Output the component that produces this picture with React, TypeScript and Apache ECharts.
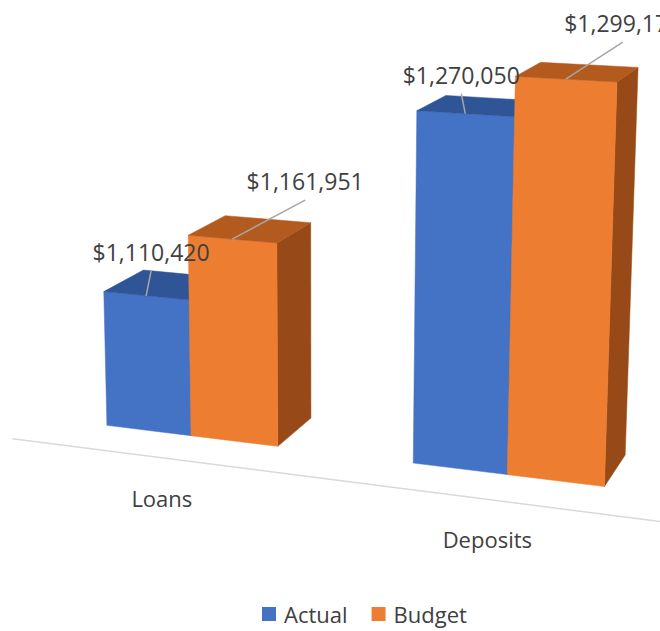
import React, { useEffect, useRef } from 'react';
import * as echarts from 'echarts';

// ---------- data ----------
const categories = ['Loans', 'Deposits'];
const seriesNames = ['Actual', 'Budget'];
const actualValues = [1110420, 1270050];
const budgetValues = [1161951, 1299173];

// hidden value axis (the floor of the 3D plot is at AXIS_MIN)
const AXIS_MIN = 1000000;
const AXIS_MAX = 1400000;
const AXIS_STEP = 100000;

// ---------- style / layout ----------
const FONT = "'Open Sans', 'Noto Sans', sans-serif";
const TEXT_COLOR = '#404040';
const FACE_COLORS: Record<string, { front: string; top: string; side: string }> = {
  Actual: { front: '#4472C4', top: '#2F5597', side: '#2A4C87' },
  Budget: { front: '#ED7D31', top: '#B35A1F', side: '#974A17' },
};
// data-label offsets from the front-top edge midpoint (px), per series / category
const LABEL_OFFSETS: Record<string, number[][]> = {
  Actual: [[5, -44], [-4, -39]],
  Budget: [[73, -58], [57, -56]],
};
const LEADER_GAP = 19; // leader line ends this far below label centre
const CAT_LABEL_DY = 40;

// world geometry (units = bar width)
const BARS_PER_CAT = 2;
const GAP_WIDTH = 1.5; // 150 %
const CAT_UNITS = BARS_PER_CAT + GAP_WIDTH;
const BAR_DEPTH = 1;
const FLOOR_Z = -0.75;
const UNITS_PER_STEP = 1.364; // world height of one AXIS_STEP
const FLAT_UNIT = 50; // px per world unit in the hidden flat grid

// perspective camera
const CAM = { x: 9.44, y: 7.08, z: -18.9, yaw: 20.2, pitch: 12.1, focal: 2020, cx: 321, cy: 194 };
const cyw = Math.cos((CAM.yaw * Math.PI) / 180);
const syw = Math.sin((CAM.yaw * Math.PI) / 180);
const cp = Math.cos((CAM.pitch * Math.PI) / 180);
const sp = Math.sin((CAM.pitch * Math.PI) / 180);

function project(X: number, Y: number, Z: number): number[] {
  const rx = X - CAM.x;
  const ry = Y - CAM.y;
  const rz = Z - CAM.z;
  const right = rx * cyw + rz * syw;
  const fwd = -rx * syw + rz * cyw;
  const yc = ry * cp + fwd * sp;
  const zc = fwd * cp - ry * sp;
  return [CAM.cx + (CAM.focal * right) / zc, CAM.cy - (CAM.focal * yc) / zc];
}

function fmt(v: number) {
  return '$' + Math.round(v).toLocaleString('en-US');
}

function poly(pts: number[][], fill: string) {
  return { type: 'polygon', shape: { points: pts }, style: { fill, stroke: fill, lineWidth: 0.5 } };
}

function makeBarRenderer(name: string, seriesIdx: number) {
  return (params: any, api: any) => {
    const cs = params.coordSys;
    const cat = api.value(0);
    const val = api.value(1);
    const band = api.size([1, 0])[0];
    const u = band / CAT_UNITS;
    const c = api.coord([cat, val]);
    const b = api.coord([cat, AXIS_MIN]);
    const centerW = (c[0] - cs.x) / u - GAP_WIDTH / 2;
    const x0 = centerW - BARS_PER_CAT / 2 + seriesIdx;
    const x1 = x0 + 1;
    const h = (b[1] - c[1]) / u;
    const d = BAR_DEPTH;
    const col = FACE_COLORS[name];
    const front = [project(x0, 0, 0), project(x1, 0, 0), project(x1, h, 0), project(x0, h, 0)];
    const top = [project(x0, h, 0), project(x1, h, 0), project(x1, h, d), project(x0, h, d)];
    const side = [project(x1, 0, 0), project(x1, 0, d), project(x1, h, d), project(x1, h, 0)];
    const anchor = project(x0 + 0.5, h, 0);
    const off = LABEL_OFFSETS[name][cat];
    const lx = anchor[0] + off[0];
    const ly = anchor[1] + off[1];
    return {
      type: 'group',
      children: [
        poly(side, col.side),
        poly(front, col.front),
        poly(top, col.top),
        {
          type: 'line',
          shape: { x1: anchor[0], y1: anchor[1], x2: lx, y2: ly + LEADER_GAP },
          style: { stroke: '#A6A6A6', lineWidth: 1.5 },
          z2: 5,
        },
        {
          type: 'text',
          x: lx,
          y: ly,
          z2: 6,
          style: {
            text: fmt(val),
            fill: TEXT_COLOR,
            fontSize: 23,
            fontFamily: FONT,
            align: 'center',
            verticalAlign: 'middle',
          },
        },
      ],
    };
  };
}

function axisRenderer(params: any, api: any) {
  const cs = params.coordSys;
  const cat = api.value(0);
  const band = api.size([1, 0])[0];
  const u = band / CAT_UNITS;
  const c = api.coord([cat, AXIS_MIN]);
  const centerW = (c[0] - cs.x) / u - GAP_WIDTH / 2;
  const p0 = project(centerW - CAT_UNITS / 2, 0, FLOOR_Z);
  const p1 = project(centerW + CAT_UNITS / 2, 0, FLOOR_Z);
  const lp = project(centerW, 0, FLOOR_Z);
  return {
    type: 'group',
    children: [
      {
        type: 'line',
        shape: { x1: p0[0], y1: p0[1], x2: p1[0], y2: p1[1] },
        style: { stroke: '#D9D9D9', lineWidth: 1.5 },
      },
      {
        type: 'text',
        x: lp[0],
        y: lp[1] + CAT_LABEL_DY,
        style: {
          text: categories[cat],
          fill: TEXT_COLOR,
          fontSize: 22,
          fontFamily: FONT,
          align: 'center',
          verticalAlign: 'middle',
        },
      },
    ],
  };
}

export default function App() {
  const ref = useRef<HTMLDivElement>(null);
  useEffect(() => {
    document.body.style.margin = '0';
    if (!ref.current) return;
    const chart = echarts.init(ref.current, undefined, { renderer: 'svg' });
    const valuesBySeries = [actualValues, budgetValues];
    chart.setOption({
      animation: false,
      backgroundColor: '#FFFFFF',
      textStyle: { fontFamily: FONT },
      grid: {
        left: 0,
        top: 0,
        width: categories.length * CAT_UNITS * FLAT_UNIT,
        height: ((AXIS_MAX - AXIS_MIN) / AXIS_STEP) * UNITS_PER_STEP * FLAT_UNIT,
        show: false,
      },
      xAxis: { type: 'category', data: categories, show: false },
      yAxis: { type: 'value', min: AXIS_MIN, max: AXIS_MAX, interval: AXIS_STEP, show: false },
      legend: {
        data: seriesNames,
        left: 262,
        top: 603,
        padding: 0,
        icon: 'rect',
        itemWidth: 14,
        itemHeight: 14,
        itemGap: 24,
        textStyle: { fontSize: 22, color: TEXT_COLOR, fontFamily: FONT, padding: [0, 0, 0, 3] },
      },
      series: [
        {
          name: 'axis',
          type: 'custom',
          clip: false,
          silent: true,
          data: categories.map((_, i) => [i, AXIS_MIN]),
          encode: { x: 0, y: 1 },
          renderItem: axisRenderer,
        },
        ...seriesNames.map((name, si) => ({
          name,
          type: 'custom',
          clip: false,
          silent: true,
          itemStyle: { color: FACE_COLORS[name].front },
          data: valuesBySeries[si].map((v, i) => [i, v]),
          encode: { x: 0, y: 1 },
          renderItem: makeBarRenderer(name, si),
        })),
      ],
    });
    return () => chart.dispose();
  }, []);
  return <div ref={ref} style={{ width: 660, height: 631 }} />;
}
